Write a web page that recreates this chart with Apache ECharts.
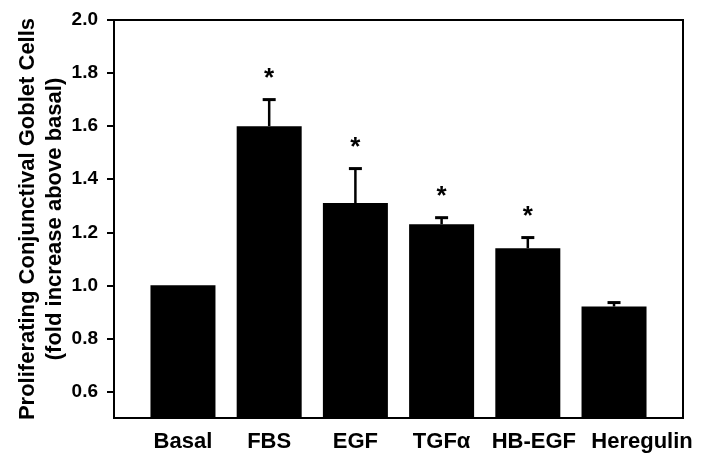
<!DOCTYPE html>
<html>
<head>
<meta charset="utf-8">
<script src="https://cdn.jsdelivr.net/npm/echarts@6/dist/echarts.min.js"></script>
<style>
  html, body { margin: 0; padding: 0; background: #fff; }
  #chart { width: 708px; height: 465px; }
</style>
</head>
<body>
<div id="chart"></div>
<script>
// Data
const categories = ['Basal', 'FBS', 'EGF', 'TGFα', 'HB-EGF', 'Heregulin'];
const means = [1.0, 1.60, 1.31, 1.23, 1.14, 0.92];
const errors = [0, 0.10, 0.13, 0.025, 0.04, 0.015];
const significant = [false, true, true, true, true, false];
const yTicks = [0.6, 0.8, 1.0, 1.2, 1.4, 1.6, 1.8, 2.0];

const FONT = 'Liberation Sans, Arial, sans-serif';

const chart = echarts.init(document.getElementById('chart'));

const barData = means.map((v, i) => [i, v]);
const errData = means.map((v, i) => [i, v, v + errors[i], significant[i] ? 1 : 0, errors[i]]);

// the last two labels sit a little right of their bars in the original
const labelStyle = { fontFamily: FONT, fontWeight: 'bold', fontSize: 22, color: '#000' };

const option = {
    animation: false,
    grid: {
        left: 114,
        right: 25,
        top: 20,
        bottom: 47,
        outerBoundsMode: 'none',
        show: true,
        borderColor: '#000',
        borderWidth: 2,
        backgroundColor: '#fff'
    },
    xAxis: {
        type: 'value',
        min: -0.8,
        max: 5.8,
        splitLine: { show: false },
        axisLine: { show: true, onZero: false, lineStyle: { color: '#000', width: 2 } },
        axisTick: { show: false },
        axisLabel: {
            customValues: [0, 1, 2, 3, 4, 5],
            formatter: function (v) {
                const i = Math.round(v);
                if (i === 4) return '{b|' + categories[i] + '}';
                if (i === 5) return '{c|' + categories[i] + '}';
                return '{a|' + categories[i] + '}';
            },
            hideOverlap: false,
            showMinLabel: true,
            showMaxLabel: true,
            margin: 13,
            color: '#000',
            fontFamily: FONT,
            fontWeight: 'bold',
            fontSize: 22,
            rich: {
                a: labelStyle,
                b: Object.assign({ padding: [0, 0, 0, 12] }, labelStyle),
                c: Object.assign({ padding: [0, 0, 0, 56] }, labelStyle)
            }
        }
    },
    yAxis: {
        type: 'value',
        min: 0.5,
        max: 2.0,
        name: 'Proliferating Conjunctival Goblet Cells\n(fold increase above basal)',
        nameLocation: 'middle',
        nameGap: 46,
        nameMoveOverlap: false,
        nameTextStyle: {
            color: '#000',
            fontFamily: FONT,
            fontWeight: 'bold',
            fontSize: 22,
            lineHeight: 27
        },
        splitLine: { show: false },
        axisLine: { show: true, onZero: false, lineStyle: { color: '#000', width: 2 } },
        axisTick: {
            show: true,
            customValues: yTicks,
            length: 7,
            lineStyle: { color: '#000', width: 2 }
        },
        axisLabel: {
            customValues: yTicks,
            formatter: v => v.toFixed(1),
            margin: 16,
            color: '#000',
            fontFamily: FONT,
            fontWeight: 'bold',
            fontSize: 19
        }
    },
    series: [
        {
            type: 'bar',
            data: barData,
            barWidth: 65,
            itemStyle: { color: '#000' },
            z: 2
        },
        {
            type: 'custom',
            data: errData,
            z: 3,
            renderItem: function (params, api) {
                const x = api.value(0);
                const top = api.coord([x, api.value(2)]);
                const base = api.coord([x, api.value(1)]);
                const half = 6.5;
                const children = [];
                if (api.value(4) > 0) {
                    children.push({
                        type: 'line',
                        shape: { x1: top[0], y1: top[1], x2: base[0], y2: base[1] },
                        style: { stroke: '#000', lineWidth: 2.5 }
                    });
                    children.push({
                        type: 'line',
                        shape: { x1: top[0] - half, y1: top[1], x2: top[0] + half, y2: top[1] },
                        style: { stroke: '#000', lineWidth: 3 }
                    });
                }
                if (api.value(3)) {
                    children.push({
                        type: 'text',
                        style: {
                            x: top[0],
                            y: top[1] - 21,
                            text: '*',
                            fill: '#000',
                            font: 'bold 26px ' + FONT,
                            align: 'center',
                            verticalAlign: 'middle'
                        }
                    });
                }
                return { type: 'group', children: children };
            }
        }
    ]
};

chart.setOption(option);
</script>
</body>
</html>
